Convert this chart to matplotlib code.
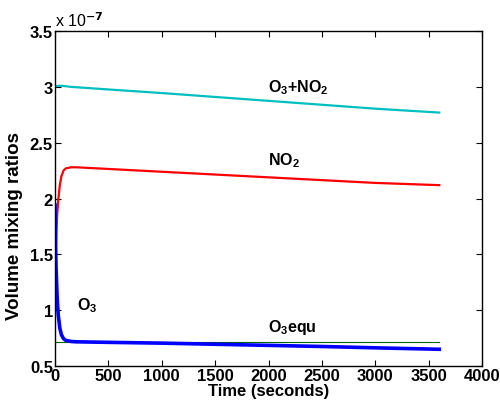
import numpy as np
import matplotlib
matplotlib.use('Agg')
import matplotlib.pyplot as plt
from matplotlib.ticker import FormatStrFormatter

plt.rcParams['font.family'] = ['Liberation Sans', 'DejaVu Sans']
plt.rcParams['font.weight'] = 'bold'
plt.rcParams['mathtext.fontset'] = 'custom'
plt.rcParams['mathtext.rm'] = 'Liberation Sans:bold'
plt.rcParams['mathtext.bf'] = 'Liberation Sans:bold'
plt.rcParams['mathtext.it'] = 'Liberation Sans:bold'

# Time (seconds) and mixing ratios (units of 1e-7)
time = [0, 5, 10, 20, 30, 45, 60, 80, 100, 150, 200, 500, 1000, 1500, 2000, 2500, 3000, 3600]
no2 = [1.06, 1.35, 1.6, 1.85, 1.98, 2.12, 2.2, 2.25, 2.27, 2.28, 2.28, 2.265, 2.24,
       2.215, 2.19, 2.165, 2.14, 2.12]
o3 = [1.94, 1.6, 1.38, 1.12, 0.96, 0.84, 0.78, 0.745, 0.73, 0.72, 0.717, 0.712, 0.705,
      0.695, 0.685, 0.675, 0.663, 0.65]
o3_no2 = [3.005, 3.006, 3.007, 3.008, 3.009, 3.01, 3.01, 3.008, 3.006, 3.0, 2.997,
          2.977, 2.945, 2.91, 2.875, 2.84, 2.805, 2.77]
o3_equ_time = [0, 3600]
o3_equ = [0.715, 0.715]

fig = plt.figure(figsize=(5.0, 4.06), dpi=100)
ax = fig.add_axes([0.11, 0.096, 0.854, 0.825])

ax.plot(time, o3_no2, color='#00bfbf', lw=1.6)
ax.plot(time, no2, color='red', lw=1.6)
ax.plot(o3_equ_time, o3_equ, color='#006400', lw=0.8)
ax.plot(time, o3, color='blue', lw=2.6)

ax.text(1995, 3.0, 'O$_3$+NO$_2$', fontsize=11.5, fontweight='bold', va='center')
ax.text(1995, 2.35, 'NO$_2$', fontsize=11.5, fontweight='bold', va='center')
ax.text(205, 1.05, 'O$_3$', fontsize=11.5, fontweight='bold', va='center')
ax.text(1995, 0.85, 'O$_3$equ', fontsize=11.5, fontweight='bold', va='center')

ax.set_xlim(0, 4000)
ax.set_ylim(0.5, 3.5)
ax.set_xticks(np.arange(0, 4001, 500))
ax.set_yticks(np.arange(0.5, 3.51, 0.5))
ax.yaxis.set_major_formatter(FormatStrFormatter('%g'))
ax.tick_params(direction='in', top=True, right=True, labelsize=12, length=4, pad=1.5)
for lab in ax.get_xticklabels() + ax.get_yticklabels():
    lab.set_fontweight('bold')
for s in ax.spines.values():
    s.set_linewidth(1.0)

ax.set_xlabel('Time (seconds)', fontsize=12, fontweight='bold', labelpad=0)
ax.set_ylabel('Volume mixing ratios', fontsize=13.5, fontweight='bold')
ax.yaxis.set_label_coords(-0.075, 0.42)
ax.text(0.0, 1.005, 'x 10$^{-7}$', transform=ax.transAxes, fontsize=11.5,
        fontweight='normal', va='bottom', ha='left', math_fontfamily='dejavusans')

fig.savefig('out.png', dpi=100)
